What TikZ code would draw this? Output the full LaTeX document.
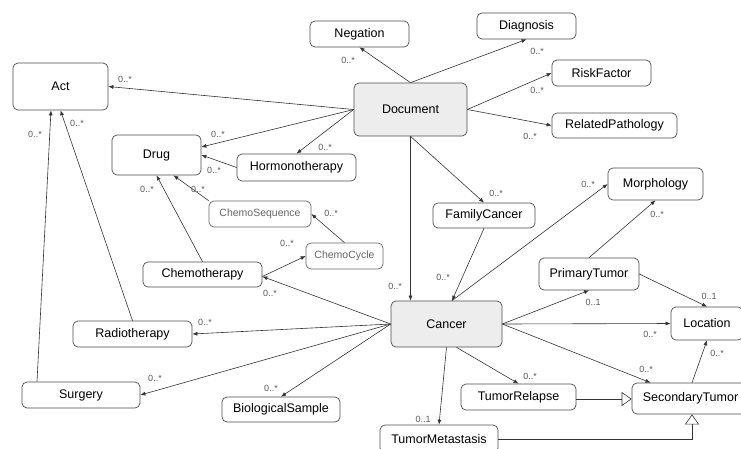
\documentclass[tikz,border=0pt]{standalone}
\usepackage{fontspec}
\setmainfont{Liberation Sans}
\usetikzlibrary{arrows.meta}

\begin{document}
\begin{tikzpicture}[x=1pt, y=-1pt,
  cls/.style={draw=black!70, line width=0.7pt, rounded corners=5pt, fill=white, inner sep=0pt, font=\fontsize{12.5}{14}\selectfont},
  main/.style={cls, fill=black!7},
  light/.style={cls, draw=black!60, text=black!60, font=\fontsize{10.5}{12}\selectfont},
  assoc/.style={draw=black!80, line width=0.6pt, -{Latex[length=5pt,width=4pt]}},
  inherit/.style={draw=black!80, line width=0.6pt, -{Triangle[open,length=10pt,width=14pt]}},
  mult/.style={text=black!65, inner sep=0pt, font=\fontsize{9}{10}\selectfont}]
\useasboundingbox (0,0) rectangle (741,448);
\clip (0,0) rectangle (741,448);

\node[cls, minimum width=95, minimum height=47] (act) at (60.5,86.5) {Act};
\node[cls, minimum width=99, minimum height=26] (negation) at (359.5,34) {Negation};
\node[cls, minimum width=99, minimum height=26] (diagnosis) at (526.5,26) {Diagnosis};
\node[cls, minimum width=99, minimum height=26] (riskfactor) at (601.5,73) {RiskFactor};
\node[cls, minimum width=125, minimum height=25] (relpathology) at (614.5,125.5) {RelatedPathology};
\node[main, minimum width=113, minimum height=53] (document) at (410.5,109.5) {Document};
\node[cls, minimum width=89, minimum height=40] (drug) at (156.5,155) {Drug};
\node[cls, minimum width=119, minimum height=27] (hormono) at (296.5,167.5) {Hormonotherapy};
\node[light, minimum width=102, minimum height=26] (chemoseq) at (260,214) {ChemoSequence};
\node[light, minimum width=77, minimum height=26] (chemocycle) at (344.5,256) {ChemoCycle};
\node[cls, minimum width=119, minimum height=25] (chemo) at (202.5,274.5) {Chemotherapy};
\node[cls, minimum width=119, minimum height=26] (radio) at (132.5,334) {Radiotherapy};
\node[cls, minimum width=118, minimum height=26] (surgery) at (81,395) {Surgery};
\node[cls, minimum width=118, minimum height=25] (biosample) at (281,409.5) {BiologicalSample};
\node[main, minimum width=111, minimum height=46] (cancer) at (446.5,324) {Cancer};
\node[cls, minimum width=102, minimum height=25] (familycancer) at (484,215.5) {FamilyCancer};
\node[cls, minimum width=95, minimum height=32] (morphology) at (655.5,184) {Morphology};
\node[cls, minimum width=100, minimum height=32] (primtumor) at (589,274) {PrimaryTumor};
\node[cls, minimum width=72, minimum height=33] (location) at (707,323.5) {Location};
\node[cls, minimum width=117, minimum height=31] (sectumor) at (690.5,398.5) {SecondaryTumor};
\node[cls, minimum width=115, minimum height=26] (tumorrelapse) at (518.5,397) {TumorRelapse};
\node[cls, minimum width=118, minimum height=28] (tumormeta) at (439,439) {TumorMetastasis};

\draw[assoc] (document.north) -- (negation.south);
\draw[assoc] (document.north) -- (diagnosis.south);
\draw[assoc] (document.east) -- (riskfactor.west);
\draw[assoc] (document.east) -- (relpathology.west);
\draw[assoc] (document.west) -- (act.east);
\draw[assoc] (document.west) -- ([yshift=8pt]drug.east);
\draw[assoc] (document.west) -- (hormono.north);
\draw[assoc] (hormono.west) -- (drug.east);
\draw[assoc] (chemo.north) -- (drug.south);
\draw[assoc] (chemoseq.north west) -- ([xshift=17pt]drug.south);
\draw[assoc] (chemocycle.north) -- (chemoseq.east);
\draw[assoc] ([yshift=-2pt]chemo.east) -- (chemocycle.west);
\draw[assoc] (radio.north) -- (act.south);
\draw[assoc] ([xshift=-44pt]surgery.north) -- ([xshift=-9.5pt]act.south);
\draw[assoc] (document.south) -- (document.south |- cancer.north);
\draw[assoc] (document.south) -- (familycancer.north);
\draw[assoc] (familycancer.south) -- ([xshift=5.5pt]cancer.north);
\draw[assoc] ([xshift=5.5pt]cancer.north) -- (morphology.west);
\draw[assoc] (primtumor.north) -- (morphology.south);
\draw[assoc] (cancer.west) -- ([yshift=-2pt]chemo.east);
\draw[assoc] (cancer.west) -- (radio.east);
\draw[assoc] (cancer.west) -- (surgery.east);
\draw[assoc] (cancer.west) -- (biosample.north);
\draw[assoc] (cancer.east) -- (primtumor.south);
\draw[assoc] (cancer.east) -- (location.west);
\draw[assoc] (cancer.east) -- ([xshift=-40pt]sectumor.north);
\draw[assoc] (primtumor.east) -- (location.north);
\draw[assoc] ([xshift=1.5pt]sectumor.north) -- (location.south);
\draw[assoc] (cancer.south) -- (tumormeta.north);
\draw[assoc] ([xshift=10pt]cancer.south) -- (tumorrelapse.north);
\draw[inherit] ([yshift=-2pt]tumorrelapse.east) -- ([yshift=-2pt]tumorrelapse.east -| sectumor.west);
\draw[inherit] (tumormeta.east) -| ([xshift=1.5pt]sectumor.south);

\foreach \lx/\ly [count=\i] in {125/79, 35/134, 77/123, 218/134, 325/147, 214/170,
    147/189, 198/189, 331/213, 348/60, 537/51, 537/90, 530/136, 496/193, 588/184,
    657/214, 287/243, 270/293, 205/322, 155/378, 271/388, 395/286, 443/277,
    650/334, 646/369, 717/353, 530/376}
  \node[mult] (many\i) at (\lx,\ly) {0..*};
\foreach \lx/\ly [count=\i] in {593/302, 709/296, 423/419}
  \node[mult] (one\i) at (\lx,\ly) {0..1};
\end{tikzpicture}
\end{document}
